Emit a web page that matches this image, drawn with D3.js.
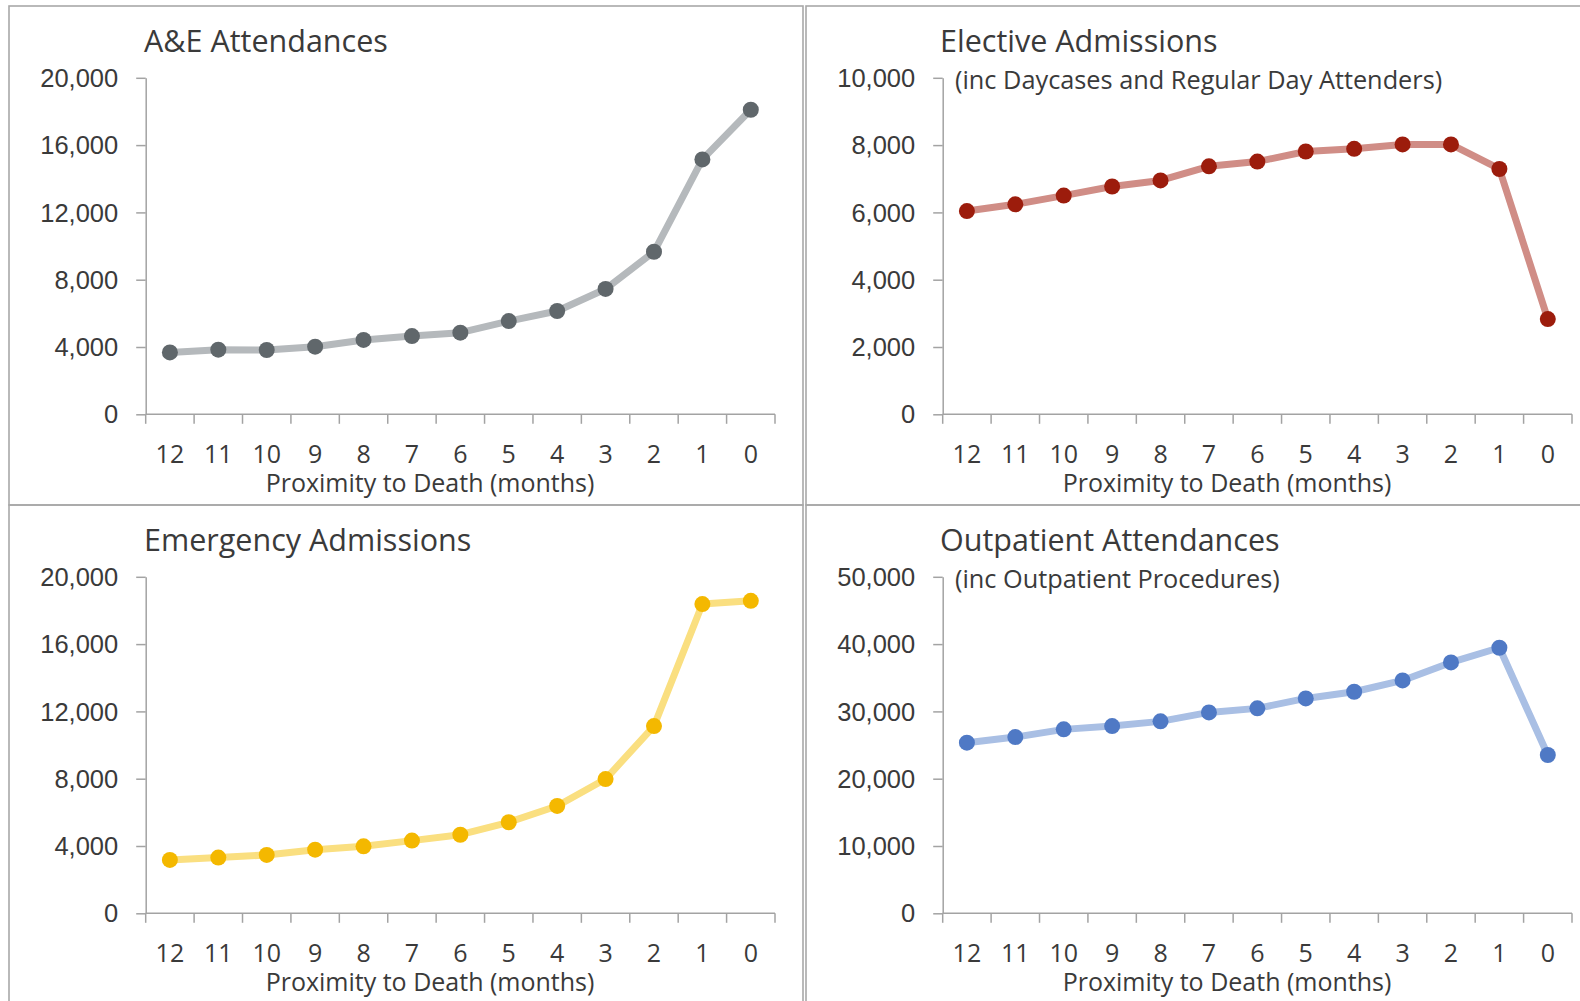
<!DOCTYPE html>
<html>
<head>
<meta charset="utf-8">
<script src="https://cdn.jsdelivr.net/npm/d3@7"></script>
<style>
  html, body { margin: 0; padding: 0; background: #ffffff; }
  svg { display: block; font-family: "Open Sans", "Noto Sans", sans-serif; }
</style>
</head>
<body>
<svg id="chart" width="1580" height="1001"></svg>
<script>
// Months before death, shown left to right
const months = ["12", "11", "10", "9", "8", "7", "6", "5", "4", "3", "2", "1", "0"];

// Activity counts per month for each setting
const aeAttendances = [3680, 3840, 3820, 4020, 4420, 4650, 4850, 5540, 6140, 7450, 9660, 15150, 18100];
const electiveAdmissions = [6040, 6240, 6500, 6770, 6950, 7370, 7510, 7810, 7890, 8020, 8020, 7290, 2830];
const emergencyAdmissions = [3170, 3310, 3470, 3780, 3980, 4320, 4670, 5410, 6380, 7980, 11130, 18380, 18570];
const outpatientAttendances = [25350, 26190, 27330, 27820, 28520, 29850, 30450, 31930, 32920, 34600, 37280, 39460, 23520];

// Y axis tick values per panel
const aeTicks = [0, 4000, 8000, 12000, 16000, 20000];
const electiveTicks = [0, 2000, 4000, 6000, 8000, 10000];
const emergencyTicks = [0, 4000, 8000, 12000, 16000, 20000];
const outpatientTicks = [0, 10000, 20000, 30000, 40000, 50000];

const panels = [
  { title: "A&E Attendances", subtitle: null, values: aeAttendances, ticks: aeTicks,
    line: "#b5b9bc", dot: "#60676b", col: 0, row: 0 },
  { title: "Elective Admissions", subtitle: "(inc Daycases and Regular Day Attenders)", values: electiveAdmissions, ticks: electiveTicks,
    line: "#d08d86", dot: "#9c1c0c", col: 1, row: 0 },
  { title: "Emergency Admissions", subtitle: null, values: emergencyAdmissions, ticks: emergencyTicks,
    line: "#fadf80", dot: "#f4b800", col: 0, row: 1 },
  { title: "Outpatient Attendances", subtitle: "(inc Outpatient Procedures)", values: outpatientAttendances, ticks: outpatientTicks,
    line: "#a9bfe4", dot: "#4f79c5", col: 1, row: 1 }
];

const svg = d3.select("#chart");
const fmt = d3.format(",");
const textColor = "#3a3a3a";
const axisColor = "#a3a3a3";

const panelX = [9, 806];
const panelY = [6, 505];

panels.forEach(p => {
  const ox = panelX[p.col];
  const oy = panelY[p.row];
  const g = svg.append("g").attr("transform", `translate(${ox},${oy})`);

  // panel frame
  g.append("rect")
    .attr("x", 0).attr("y", 0)
    .attr("width", p.col === 0 ? 794 : 800)
    .attr("height", 499)
    .attr("fill", "none")
    .attr("stroke", "#a8a8a8")
    .attr("stroke-width", 1.6);

  const left = 136.7, right = 766, top = 71.8, bottom = 408.3;

  const x = d3.scaleBand().domain(months).range([left, right]);
  const y = d3.scaleLinear().domain([0, d3.max(p.ticks)]).range([bottom, top]);

  // y axis
  const yAxis = g.append("g").attr("transform", `translate(${left},0)`)
    .call(d3.axisLeft(y).tickValues(p.ticks).tickFormat(fmt).tickSizeInner(9.5).tickSizeOuter(0).tickPadding(18));
  yAxis.select(".domain").attr("stroke", axisColor).attr("stroke-width", 1.5);
  yAxis.selectAll(".tick line").attr("stroke", axisColor).attr("stroke-width", 1.5);
  yAxis.selectAll(".tick text")
    .attr("fill", textColor).style("font-size", "25.5px").attr("dy", "0.34em");

  // x axis: tick marks sit on the boundaries between months
  const xAxis = g.append("g").attr("transform", `translate(0,${bottom})`);
  xAxis.append("line")
    .attr("x1", left).attr("x2", right).attr("y1", 0).attr("y2", 0)
    .attr("stroke", axisColor).attr("stroke-width", 1.5);
  const bounds = months.map(m => x(m)).concat([x.range()[1]]);
  xAxis.selectAll("line.tk").data(bounds).join("line").attr("class", "tk")
    .attr("x1", d => d).attr("x2", d => d).attr("y1", 0).attr("y2", 9.5)
    .attr("stroke", axisColor).attr("stroke-width", 1.5);
  xAxis.selectAll("text.lbl").data(months).join("text").attr("class", "lbl")
    .attr("x", d => x(d) + x.bandwidth() / 2)
    .attr("y", 49)
    .attr("text-anchor", "middle")
    .attr("fill", textColor).style("font-size", "25px")
    .text(d => d);
  xAxis.append("text")
    .attr("x", 421)
    .attr("y", 78)
    .attr("text-anchor", "middle")
    .attr("fill", textColor).style("font-size", "25px")
    .text("Proximity to Death (months)");

  // titles
  g.append("text")
    .attr("x", p.col === 0 ? 135 : 134)
    .attr("y", 46)
    .attr("fill", textColor).style("font-size", "30.5px")
    .text(p.title);
  if (p.subtitle) {
    g.append("text")
      .attr("x", 149)
      .attr("y", 83)
      .attr("fill", textColor).style("font-size", "25.3px")
      .text(p.subtitle);
  }

  // series line and markers
  const pts = months.map((m, i) => ({ m, v: p.values[i] }));
  const line = d3.line().x(d => x(d.m) + x.bandwidth() / 2).y(d => y(d.v));
  g.append("path").datum(pts)
    .attr("d", line)
    .attr("fill", "none")
    .attr("stroke", p.line)
    .attr("stroke-width", 7)
    .attr("stroke-linejoin", "round");
  g.selectAll("circle.pt").data(pts).join("circle").attr("class", "pt")
    .attr("cx", d => x(d.m) + x.bandwidth() / 2)
    .attr("cy", d => y(d.v))
    .attr("r", 8)
    .attr("fill", p.dot);
});
</script>
</body>
</html>
